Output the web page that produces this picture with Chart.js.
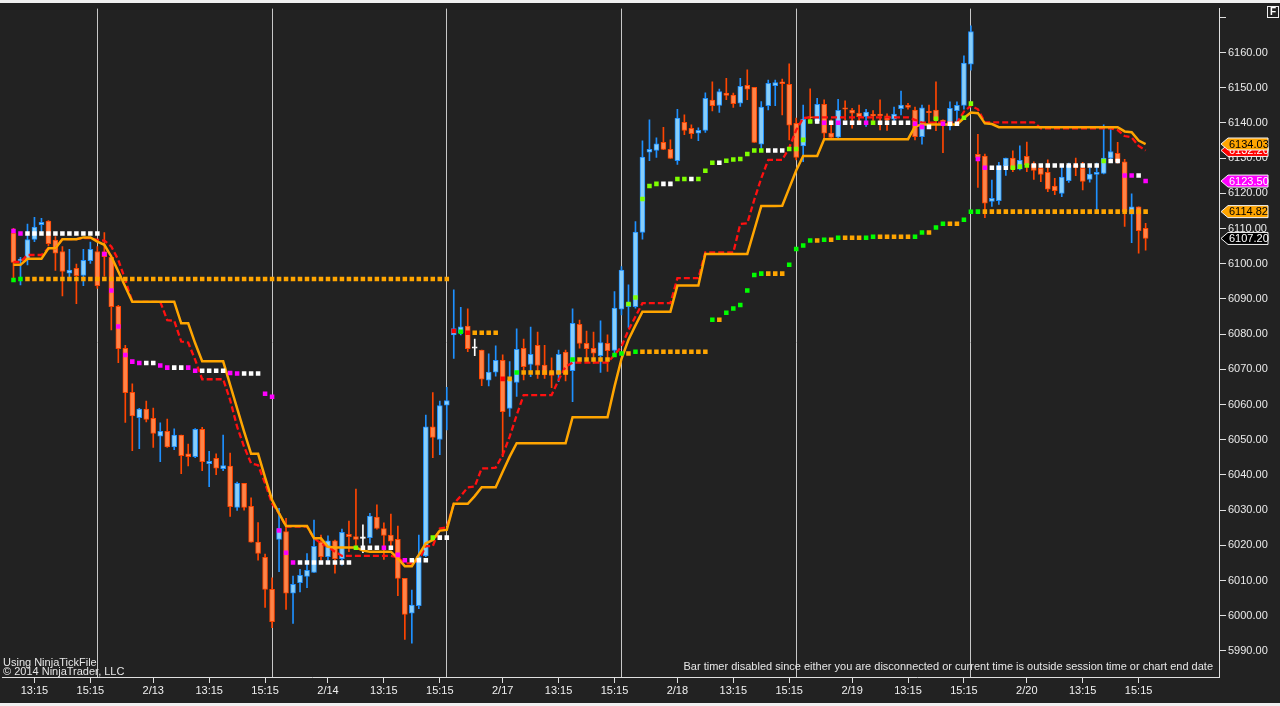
<!DOCTYPE html>
<html>
<head>
<meta charset="utf-8">
<style>
  html, body { margin: 0; padding: 0; background: #222222; overflow: hidden; }
  canvas { display: block; }
</style>
<script src="https://cdn.jsdelivr.net/npm/chart.js@4.4.1/dist/chart.umd.min.js"></script>
</head>
<body>
<canvas id="chart" width="1280" height="706"></canvas>
<script>
// ---- bars (one per category slot, oldest first) ----
const open = [
  6108.7, 6100.9, 6101.3, 6106.9, 6111.1, 6112.1, 6106.7, 6103.5, 6097.3, 6098.7,
  6096.7, 6100.9, 6103.5, 6103.4, 6101.8, 6087.9, 6076.0, 6063.5, 6056.3, 6058.7,
  6056.1, 6051.0, 6052.4, 6048.0, 6051.3, 6046.0, 6045.2, 6053.0, 6043.2, 6044.7,
  6041.8, 6042.5, 6030.8, 6037.6, 6031.1, 6020.9, 6016.6, 6007.5, 6021.7, 6023.9,
  6006.4, 6009.4, 6011.2, 6012.3, 6020.9, 6016.8, 6021.3, 6016.2, 6023.1, 6022.5,
  6022.0, 6022.2, 6028.0, 6024.8, 6022.9, 6021.7, 6010.6, 6000.7, 6002.9, 6017.0,
  6053.7, 6050.1, 6059.8, 6079.8, 6080.4, 6082.3, 6076.0, 6075.5, 6066.9, 6069.2,
  6072.6, 6058.9, 6066.3, 6076.0, 6071.4, 6076.8, 6071.2, 6069.4, 6068.7, 6074.9,
  6069.6, 6082.8, 6077.4, 6076.0, 6073.9, 6077.4, 6075.4, 6087.1, 6087.8, 6087.8,
  6108.9, 6131.7, 6132.2, 6134.5, 6132.5, 6129.3, 6140.2, 6138.5, 6137.1, 6137.9,
  6146.5, 6145.0, 6148.5, 6147.9, 6145.6, 6150.7, 6150.1, 6134.0, 6144.9, 6150.6,
  6151.7, 6151.0, 6139.9, 6133.5, 6141.8, 6140.6, 6145.3, 6137.1, 6136.0, 6144.3,
  6143.7, 6142.8, 6141.8, 6142.2, 6142.4, 6142.0, 6141.1, 6144.1, 6145.0, 6143.7,
  6136.1, 6143.1, 6143.7, 6140.6, 6139.2, 6143.5, 6145.0, 6156.7, 6131.1, 6130.6,
  6117.7, 6117.9, 6127.9, 6130.0, 6126.9, 6130.5, 6128.3, 6127.1, 6126.0, 6122.1,
  6120.0, 6123.6, 6128.1, 6127.1, 6124.0, 6125.4, 6125.7, 6130.0, 6131.4, 6129.0,
  6114.1, 6116.2, 6110.1
];
const high = [
  6110.1, 6101.8, 6111.3, 6113.2, 6112.9, 6112.3, 6107.7, 6104.9, 6104.1, 6099.9,
  6104.1, 6106.2, 6104.9, 6108.9, 6102.5, 6088.2, 6076.8, 6065.9, 6058.9, 6061.0,
  6059.0, 6054.8, 6055.9, 6053.1, 6051.3, 6048.8, 6053.2, 6053.5, 6046.7, 6046.0,
  6051.3, 6046.2, 6038.0, 6037.6, 6033.5, 6026.5, 6017.5, 6010.8, 6030.5, 6027.7,
  6011.3, 6013.2, 6017.7, 6027.2, 6022.9, 6022.7, 6021.5, 6024.6, 6026.9, 6036.0,
  6025.8, 6029.1, 6031.5, 6026.4, 6028.9, 6025.5, 6010.6, 6007.3, 6022.9, 6057.0,
  6063.4, 6061.0, 6064.9, 6092.6, 6087.6, 6087.2, 6078.6, 6075.5, 6074.4, 6076.7,
  6074.1, 6072.2, 6081.5, 6078.6, 6082.0, 6080.6, 6076.8, 6073.3, 6075.5, 6075.5,
  6087.2, 6084.0, 6080.9, 6080.6, 6083.8, 6079.8, 6092.1, 6099.2, 6094.0, 6112.0,
  6134.9, 6140.9, 6135.8, 6138.8, 6135.2, 6143.9, 6142.3, 6139.5, 6138.6, 6148.6,
  6151.7, 6149.6, 6152.7, 6148.5, 6152.7, 6155.1, 6150.1, 6146.1, 6152.2, 6152.2,
  6152.5, 6156.8, 6141.4, 6145.1, 6149.7, 6147.0, 6146.6, 6140.9, 6146.7, 6146.3,
  6144.2, 6145.1, 6143.9, 6143.5, 6146.6, 6142.6, 6144.5, 6149.1, 6145.6, 6144.5,
  6145.1, 6145.1, 6151.7, 6140.9, 6146.0, 6146.0, 6159.1, 6167.6, 6136.8, 6131.2,
  6123.8, 6128.8, 6130.0, 6132.1, 6133.5, 6134.6, 6129.0, 6127.8, 6129.5, 6124.3,
  6127.6, 6128.6, 6130.0, 6128.8, 6127.1, 6128.6, 6139.5, 6139.0, 6134.5, 6129.7,
  6119.9, 6116.2, 6111.5
];
const low = [
  6095.9, 6094.0, 6099.7, 6106.3, 6109.1, 6105.1, 6098.1, 6090.9, 6096.3, 6088.7,
  6093.8, 6100.1, 6093.0, 6096.5, 6081.2, 6071.9, 6054.9, 6046.9, 6047.5, 6055.1,
  6047.8, 6043.8, 6047.8, 6047.2, 6040.4, 6042.6, 6044.9, 6041.2, 6036.7, 6040.1,
  6041.2, 6028.2, 6029.9, 6030.0, 6020.9, 6015.8, 6002.4, 5996.6, 6012.5, 6001.8,
  5997.8, 6006.8, 6008.0, 6012.3, 6015.8, 6015.8, 6012.1, 6014.4, 6018.2, 6019.6,
  6017.9, 6020.6, 6024.6, 6016.0, 6019.6, 6005.7, 5993.3, 5992.2, 6002.0, 6016.8,
  6044.9, 6045.8, 6052.8, 6073.1, 6079.8, 6075.0, 6073.9, 6065.4, 6065.3, 6068.1,
  6045.2, 6056.6, 6062.3, 6067.0, 6067.9, 6067.4, 6067.4, 6064.8, 6066.5, 6066.7,
  6060.8, 6076.0, 6073.1, 6071.7, 6069.1, 6069.4, 6074.6, 6085.5, 6081.9, 6087.4,
  6107.0, 6129.3, 6130.2, 6132.4, 6129.9, 6128.2, 6136.7, 6135.6, 6135.0, 6137.3,
  6143.4, 6143.0, 6146.6, 6144.4, 6144.7, 6146.6, 6134.5, 6132.5, 6143.7, 6144.9,
  6142.3, 6135.2, 6129.5, 6129.0, 6140.0, 6139.9, 6135.2, 6135.4, 6135.5, 6140.9,
  6138.5, 6140.4, 6139.0, 6140.4, 6138.0, 6137.9, 6140.4, 6142.3, 6143.9, 6135.2,
  6134.0, 6140.1, 6137.8, 6131.6, 6138.0, 6139.9, 6143.9, 6155.0, 6121.7, 6113.1,
  6116.3, 6116.9, 6125.1, 6126.2, 6126.7, 6126.2, 6124.0, 6123.3, 6120.5, 6119.6,
  6119.1, 6123.1, 6125.0, 6121.0, 6123.2, 6115.3, 6125.5, 6129.5, 6128.6, 6110.6,
  6106.0, 6103.0, 6103.9
];
const close = [
  6100.4, 6101.3, 6106.9, 6110.4, 6111.8, 6105.7, 6103.0, 6097.8, 6098.2, 6096.6,
  6101.0, 6104.1, 6093.8, 6102.0, 6087.8, 6075.9, 6063.4, 6056.8, 6058.7, 6055.8,
  6051.8, 6052.4, 6048.0, 6051.3, 6045.5, 6045.2, 6053.0, 6043.8, 6043.9, 6041.9,
  6042.7, 6031.0, 6037.6, 6030.8, 6020.9, 6017.7, 6007.5, 5998.3, 6024.8, 6006.4,
  6008.9, 6011.5, 6012.9, 6019.7, 6016.8, 6021.3, 6016.2, 6023.7, 6022.5, 6021.7,
  6022.0, 6028.3, 6024.8, 6022.8, 6021.2, 6010.6, 6000.4, 6003.0, 6016.8, 6053.7,
  6050.7, 6059.7, 6061.1, 6081.6, 6082.1, 6075.9, 6076.0, 6067.2, 6069.2, 6072.6,
  6058.0, 6067.0, 6075.7, 6070.8, 6074.3, 6071.1, 6068.4, 6068.3, 6074.3, 6068.6,
  6083.1, 6077.4, 6075.9, 6074.6, 6077.6, 6075.3, 6087.4, 6098.2, 6089.0, 6109.0,
  6130.3, 6132.5, 6134.1, 6132.5, 6129.9, 6141.4, 6137.9, 6137.0, 6137.9, 6147.0,
  6144.9, 6148.9, 6147.8, 6145.5, 6150.4, 6149.6, 6134.5, 6144.5, 6151.3, 6151.5,
  6151.2, 6139.4, 6130.2, 6141.1, 6141.4, 6145.3, 6137.1, 6135.9, 6143.6, 6143.9,
  6142.8, 6141.8, 6143.1, 6142.0, 6142.1, 6140.9, 6142.5, 6145.1, 6144.4, 6136.1,
  6144.3, 6142.9, 6140.9, 6140.4, 6144.2, 6145.0, 6157.0, 6166.0, 6130.2, 6117.2,
  6118.6, 6127.9, 6130.0, 6126.9, 6129.4, 6128.1, 6126.5, 6125.4, 6121.2, 6120.8,
  6124.6, 6128.0, 6127.4, 6123.4, 6125.5, 6126.0, 6130.0, 6131.9, 6129.0, 6114.8,
  6116.2, 6109.4, 6107.2
];

// ---- indicator lines ----
const orangeLine = [
  6099.7, 6099.7, 6101.4, 6101.4, 6101.4, 6104.4, 6104.4, 6107.0, 6107.0, 6107.0,
  6107.5, 6107.5, 6106.3, 6105.4, 6102.0, 6097.8, 6093.5, 6089.2, 6089.2, 6089.2,
  6089.2, 6089.2, 6089.2, 6089.2, 6083.1, 6083.1, 6077.4, 6072.3, 6072.3, 6072.3,
  6072.3, 6065.6, 6058.9, 6052.3, 6046.0, 6046.0, 6039.3, 6032.9, 6029.1, 6025.5,
  6025.5, 6025.5, 6025.5, 6022.0, 6022.0, 6019.6, 6019.4, 6019.4, 6019.4, 6019.4,
  6018.5, 6018.2, 6018.2, 6018.2, 6018.2, 6016.3, 6014.1, 6014.1, 6017.3, 6020.6,
  6021.5, 6024.2, 6024.4, 6031.8, 6031.8, 6031.8, 6034.0, 6036.5, 6036.5, 6036.5,
  6040.9, 6045.2, 6049.0, 6049.0, 6049.0, 6049.0, 6049.0, 6049.0, 6049.0, 6049.0,
  6056.4, 6056.4, 6056.4, 6056.4, 6056.4, 6056.4, 6065.1, 6073.0, 6078.4, 6082.5,
  6086.4, 6086.4, 6086.4, 6086.4, 6086.4, 6093.8, 6093.8, 6093.8, 6093.8, 6102.8,
  6102.8, 6102.8, 6102.8, 6102.8, 6102.8, 6102.8, 6109.6, 6116.4, 6116.4, 6116.4,
  6116.5, 6121.5, 6126.5, 6130.6, 6130.6, 6130.6, 6135.4, 6135.4, 6135.4, 6135.4,
  6135.4, 6135.4, 6135.4, 6135.4, 6135.4, 6135.4, 6135.4, 6135.4, 6135.4, 6139.0,
  6139.6, 6139.6, 6139.6, 6139.6, 6139.6, 6139.6, 6141.4, 6143.0, 6142.8, 6139.9,
  6139.7, 6138.8, 6138.8, 6138.8, 6138.8, 6138.8, 6138.8, 6138.8, 6138.8, 6138.8,
  6138.8, 6138.8, 6138.8, 6138.8, 6138.8, 6138.8, 6138.8, 6138.8, 6138.8, 6137.6,
  6137.4, 6135.0, 6134.03
];
const redLine = [
  6100.5, 6100.5, 6102.5, 6102.5, 6102.5, 6104.4, 6104.4, 6107.0, 6107.0, 6107.0,
  6107.3, 6107.3, 6106.8, 6106.6, 6104.9, 6101.1, 6095.4, 6089.2, 6089.2, 6089.2,
  6089.2, 6089.2, 6084.0, 6083.8, 6077.9, 6077.6, 6072.7, 6067.2, 6067.2, 6067.2,
  6067.2, 6061.3, 6053.7, 6048.0, 6043.3, 6042.8, 6037.6, 6031.9, 6029.1, 6025.3,
  6025.3, 6025.3, 6025.3, 6022.0, 6020.6, 6019.6, 6018.2, 6017.0, 6017.0, 6017.0,
  6017.0, 6017.0, 6017.0, 6017.0, 6017.0, 6016.6, 6014.9, 6014.9, 6015.8, 6019.8,
  6019.8, 6024.8, 6025.1, 6031.8, 6034.0, 6036.5, 6036.7, 6041.9, 6041.9, 6042.1,
  6045.7, 6050.9, 6057.0, 6062.7, 6062.7, 6062.7, 6062.7, 6062.7, 6067.0, 6070.8,
  6071.9, 6071.9, 6071.9, 6071.9, 6071.9, 6071.9, 6074.1, 6076.5, 6081.2, 6085.0,
  6088.8, 6088.8, 6088.8, 6088.8, 6088.8, 6095.9, 6095.9, 6095.9, 6095.9, 6103.2,
  6103.2, 6103.2, 6103.2, 6103.2, 6111.3, 6111.5, 6118.2, 6124.3, 6129.5, 6129.5,
  6129.5, 6133.0, 6138.0, 6141.4, 6141.6, 6141.6, 6141.6, 6141.6, 6141.6, 6141.6,
  6141.6, 6141.6, 6141.6, 6141.6, 6141.6, 6141.6, 6141.6, 6141.6, 6141.6, 6140.9,
  6140.1, 6140.1, 6140.1, 6140.1, 6140.1, 6140.1, 6143.2, 6144.9, 6143.9, 6140.2,
  6140.2, 6140.2, 6140.2, 6140.2, 6140.2, 6140.2, 6140.2, 6138.5, 6138.5, 6138.5,
  6138.5, 6138.5, 6138.5, 6138.5, 6138.5, 6138.5, 6138.5, 6138.5, 6138.0, 6136.3,
  6135.9, 6133.5, 6132.2
];

// ---- dot levels: [first bar, last bar, price] ----
const whiteDots = [
  [2, 12, 6108.6], [19, 20, 6071.8], [23, 24, 6070.5], [27, 30, 6069.6], [33, 35, 6068.8],
  [41, 48, 6015.1], [50, 52, 6019.3], [54, 54, 6019.3], [57, 59, 6015.8], [61, 62, 6022.2],
  [93, 94, 6122.7], [97, 97, 6124.1], [101, 101, 6128.7], [108, 110, 6132.2],
  [115, 115, 6140.4], [117, 117, 6140.1], [119, 121, 6140.1], [124, 128, 6140.1],
  [131, 131, 6138.9], [134, 135, 6139.8],
  [140, 142, 6127.3], [146, 155, 6127.9], [157, 158, 6129.2], [161, 161, 6125.1]
];
const magentaDots = [
  [0, 0, 6109.3], [1, 1, 6108.6], [13, 13, 6102.8], [14, 14, 6092.4], [15, 15, 6082.2],
  [16, 16, 6074.1], [17, 17, 6072.2], [18, 18, 6071.8], [21, 21, 6071.1], [22, 22, 6070.5],
  [25, 25, 6070.5], [26, 26, 6069.6], [31, 31, 6069.0], [32, 32, 6068.8], [36, 36, 6063.1],
  [37, 37, 6062.2], [38, 38, 6024.2], [39, 39, 6017.9], [40, 40, 6015.1], [53, 53, 6019.3],
  [55, 55, 6017.3], [56, 56, 6015.8], [116, 116, 6140.1], [118, 118, 6140.1],
  [122, 122, 6140.1], [129, 129, 6139.8], [130, 130, 6138.9], [133, 133, 6139.8],
  [138, 138, 6129.8], [139, 139, 6127.3], [159, 160, 6125.1], [162, 162, 6123.5]
];
const limeDots = [
  [49, 49, 6019.3], [60, 60, 6022.2], [88, 88, 6088.6], [89, 89, 6090.4], [90, 90, 6118.4],
  [91, 91, 6122.1], [92, 92, 6122.7], [95, 96, 6124.1], [98, 98, 6124.1], [99, 99, 6126.4],
  [100, 100, 6128.7], [102, 102, 6129.3], [103, 103, 6129.6], [104, 104, 6129.8],
  [105, 105, 6131.2], [106, 107, 6132.2], [111, 112, 6132.6], [113, 113, 6135.2],
  [114, 114, 6140.4], [123, 123, 6140.1], [132, 132, 6141.2], [136, 136, 6141.5],
  [137, 137, 6145.5], [143, 143, 6127.3], [144, 144, 6127.6], [145, 145, 6127.9],
  [156, 156, 6129.2]
];
const greenDots = [
  [0, 0, 6095.4], [1, 1, 6095.7], [64, 64, 6080.7], [72, 72, 6069.1], [80, 80, 6072.8],
  [86, 86, 6074.1], [87, 87, 6074.5], [89, 89, 6075.0], [100, 100, 6084.1],
  [102, 102, 6086.1], [103, 103, 6087.3], [104, 104, 6088.3], [105, 105, 6092.4],
  [106, 106, 6096.8], [107, 107, 6097.2], [111, 111, 6099.7], [112, 112, 6104.2],
  [113, 113, 6105.2], [114, 114, 6106.6], [116, 116, 6106.8], [118, 118, 6107.4],
  [122, 122, 6107.4], [123, 123, 6107.7], [129, 129, 6107.7], [130, 130, 6108.9],
  [132, 132, 6110.3], [133, 133, 6111.4], [136, 136, 6112.5], [137, 137, 6114.8],
  [138, 138, 6114.82]
];
const orangeDots = [
  [2, 62, 6095.7], [66, 69, 6080.4], [71, 71, 6067.3], [73, 79, 6069.1], [81, 85, 6072.8],
  [88, 88, 6074.5], [90, 99, 6075.0], [101, 101, 6084.1], [108, 110, 6097.2],
  [115, 115, 6106.6], [117, 117, 6106.8], [119, 121, 6107.4], [124, 128, 6107.7],
  [131, 131, 6108.9], [134, 135, 6111.4], [139, 162, 6114.82]
];
const redDots = [[63, 63, 6080.9], [65, 65, 6080.4], [70, 70, 6067.3]];

// ---- axis ----
const slotCount = 173; // empty slots after the last bar, right margin
const sessionStarts = [12, 37, 62, 87, 112, 137];
const tickBars = [3, 11, 20, 28, 36, 45, 53, 61, 70, 78, 86, 95, 103, 111, 120, 128, 136, 145, 153, 161];
const tickTexts = ['13:15', '15:15', '2/13', '13:15', '15:15', '2/14', '13:15', '15:15', '2/17', '13:15',
                   '15:15', '2/18', '13:15', '15:15', '2/19', '13:15', '15:15', '2/20', '13:15', '15:15'];

const FONT = "'Liberation Sans', Arial, sans-serif";
const UP_FILL = '#87cefa', UP_EDGE = '#1e90ff';
const DOWN_FILL = '#ff8447', DOWN_EDGE = '#ff4500';
const DOJI = '#ffffff';

function candleColor(i, up, down) {
  if (close[i] > open[i]) return up;
  if (close[i] < open[i]) return down;
  return DOJI;
}

function levelsFromRuns(runs) {
  const levels = new Array(close.length).fill(null);
  runs.forEach(([from, to, price]) => {
    for (let i = from; i <= to; i++) levels[i] = price;
  });
  return levels;
}

function lastLevel(runs) {
  return runs.reduce((a, b) => (b[1] > a[1] ? b : a))[2];
}

function dotSet(runs, color) {
  return {
    type: 'line',
    data: levelsFromRuns(runs),
    showLine: false,
    pointStyle: 'rect',
    pointRadius: 3.2,
    pointBorderWidth: 0,
    pointBackgroundColor: color,
    order: 0
  };
}

function priceTag(ctx, y, value, fill, ink) {
  const tip = 1221, box = 1228, end = 1268, h = 12;
  ctx.beginPath();
  ctx.moveTo(tip, y);
  ctx.lineTo(box, y - h / 2);
  ctx.lineTo(end, y - h / 2);
  ctx.lineTo(end, y + h / 2);
  ctx.lineTo(box, y + h / 2);
  ctx.closePath();
  ctx.fillStyle = fill;
  ctx.fill();
  ctx.strokeStyle = '#f4f4f4';
  ctx.lineWidth = 1;
  ctx.stroke();
  ctx.fillStyle = ink;
  ctx.font = '11px ' + FONT;
  ctx.textAlign = 'left';
  ctx.textBaseline = 'middle';
  ctx.fillText(value.toFixed(2), 1229, y + 0.5);
}

const chrome = {
  id: 'chrome',
  beforeDraw(chart) {
    const ctx = chart.ctx;
    ctx.save();
    ctx.fillStyle = '#222222';
    ctx.fillRect(0, 0, 1280, 706);
    ctx.fillStyle = '#f0f0f0';
    ctx.fillRect(0, 0, 1280, 3);
    ctx.fillRect(0, 703, 1280, 3);
    ctx.restore();
  },
  afterDraw(chart) {
    const ctx = chart.ctx;
    const y = chart.scales.y;
    const area = chart.chartArea;
    const last = close.length - 1;
    ctx.save();

    // bottom axis line runs to the left edge
    ctx.strokeStyle = '#e0e0e0';
    ctx.lineWidth = 1;
    ctx.beginPath();
    ctx.moveTo(2, Math.round(area.bottom) + 0.5);
    ctx.lineTo(area.left + 1, Math.round(area.bottom) + 0.5);
    ctx.stroke();

    priceTag(ctx, y.getPixelForValue(redLine[last]), redLine[last], '#ff0000', '#ffffff');
    priceTag(ctx, y.getPixelForValue(orangeLine[last]), orangeLine[last], '#ffa500', '#000000');
    priceTag(ctx, y.getPixelForValue(lastLevel(magentaDots)), lastLevel(magentaDots), '#ff00ff', '#ffffff');
    priceTag(ctx, y.getPixelForValue(lastLevel(orangeDots)), lastLevel(orangeDots), '#ffa500', '#000000');
    priceTag(ctx, y.getPixelForValue(close[last]), close[last], '#000000', '#ffffff');

    // corner box
    ctx.strokeStyle = '#f0f0f0';
    ctx.lineWidth = 1;
    ctx.strokeRect(1267.5, 6.5, 11, 11);
    ctx.fillStyle = '#ffffff';
    ctx.font = 'bold 10px ' + FONT;
    ctx.textAlign = 'center';
    ctx.textBaseline = 'middle';
    ctx.fillText('F', 1273, 12.5);

    ctx.fillStyle = '#e6e6e6';
    ctx.font = '11px ' + FONT;
    ctx.textAlign = 'left';
    ctx.textBaseline = 'alphabetic';
    ctx.fillText('Using NinjaTickFile', 3, 666);
    ctx.fillText('\u00a9 2014 NinjaTrader, LLC', 3, 675);

    const note = 'Bar timer disabled since either you are disconnected or current time is outside session time or chart end date';
    const w = ctx.measureText(note).width;
    const size = Math.min(11, 11 * 530 / w);
    ctx.font = size.toFixed(2) + 'px ' + FONT;
    ctx.textAlign = 'right';
    ctx.fillText(note, 1213, 670);
    ctx.restore();
  }
};

const slots = Array.from({ length: slotCount }, (_, i) => i);

new Chart(document.getElementById('chart'), {
  type: 'bar',
  data: {
    labels: slots,
    datasets: [
      dotSet(whiteDots, '#ffffff'),
      dotSet(magentaDots, '#ff00ff'),
      dotSet(limeDots, '#7fff00'),
      dotSet(greenDots, '#00ff00'),
      dotSet(orangeDots, '#ffa500'),
      dotSet(redDots, '#ff0000'),
      {
        type: 'line',
        data: orangeLine,
        borderColor: '#ffa500',
        borderWidth: 2.5,
        pointRadius: 0,
        tension: 0,
        order: 1
      },
      {
        type: 'line',
        data: redLine,
        borderColor: '#ff1010',
        borderWidth: 2.3,
        borderDash: [6, 3],
        pointRadius: 0,
        tension: 0,
        order: 2
      },
      {
        data: open.map((o, i) => [o, close[i]]),
        backgroundColor: open.map((_, i) => candleColor(i, UP_FILL, DOWN_FILL)),
        borderColor: open.map((_, i) => candleColor(i, UP_EDGE, DOWN_EDGE)),
        borderWidth: 1,
        borderSkipped: false,
        barThickness: 5,
        minBarLength: 1.5,
        grouped: false,
        order: 3
      },
      {
        data: low.map((l, i) => [l, high[i]]),
        backgroundColor: open.map((_, i) => candleColor(i, UP_EDGE, DOWN_EDGE)),
        barThickness: 1,
        grouped: false,
        order: 4
      }
    ]
  },
  options: {
    responsive: false,
    animation: false,
    devicePixelRatio: 1,
    events: [],
    layout: { padding: { left: 10, top: 8, right: 0, bottom: 0 } },
    plugins: { legend: { display: false }, tooltip: { enabled: false } },
    scales: {
      x: {
        type: 'category',
        offset: true,
        grid: {
          offset: false,
          drawOnChartArea: true,
          lineWidth: 1,
          tickLength: 6,
          color: ctx => (sessionStarts.includes(ctx.index) ? '#c8c8c8' : 'rgba(0,0,0,0)'),
          tickColor: ctx => (tickBars.includes(ctx.index) ? '#e0e0e0' : 'rgba(0,0,0,0)')
        },
        border: { display: true, color: '#e0e0e0', width: 1 },
        ticks: {
          autoSkip: false,
          maxRotation: 0,
          minRotation: 0,
          padding: 1,
          color: '#f0f0f0',
          font: { family: FONT, size: 11 },
          callback: (v, i) => {
            const k = tickBars.indexOf(i);
            return k >= 0 ? tickTexts[k] : '';
          }
        },
        afterFit: s => { s.height = 29; }
      },
      y: {
        type: 'linear',
        position: 'right',
        min: 5982.6,
        max: 6172.5,
        grid: { drawOnChartArea: false, color: '#e0e0e0', tickLength: 7 },
        border: { display: true, color: '#e0e0e0', width: 1 },
        ticks: {
          stepSize: 10,
          includeBounds: false,
          padding: 2,
          color: '#eaeaea',
          font: { family: FONT, size: 11 },
          callback: v => (v >= 6170 ? '' : v.toFixed(2))
        },
        afterFit: s => { s.width = 61; }
      }
    }
  },
  plugins: [chrome]
});
</script>
</body>
</html>
